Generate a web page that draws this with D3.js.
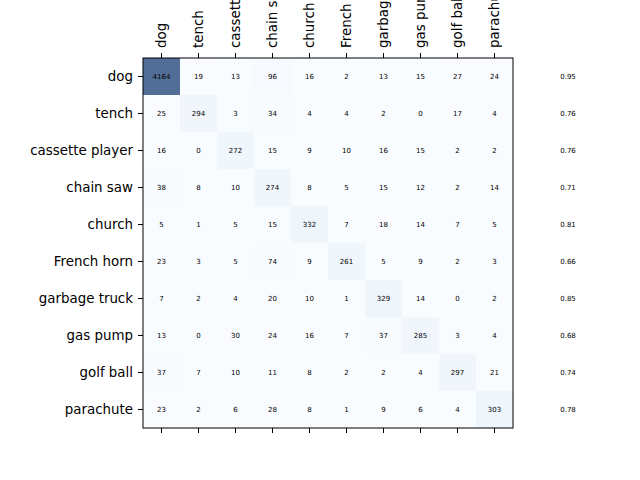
<!DOCTYPE html>
<html>
<head>
<meta charset="utf-8">
<script src="https://cdn.jsdelivr.net/npm/d3@7"></script>
<style>
  html, body { margin: 0; padding: 0; background: #fff; }
  svg { display: block; }
</style>
</head>
<body>
<svg id="chart" width="640" height="480"></svg>
<script>
const categories = ["dog", "tench", "cassette player", "chain saw", "church", "French horn", "garbage truck", "gas pump", "golf ball", "parachute"];
const row_dog       = [4164, 19, 13, 96, 16, 2, 13, 15, 27, 24];
const row_tench     = [25, 294, 3, 34, 4, 4, 2, 0, 17, 4];
const row_cassette  = [16, 0, 272, 15, 9, 10, 16, 15, 2, 2];
const row_chainsaw  = [38, 8, 10, 274, 8, 5, 15, 12, 2, 14];
const row_church    = [5, 1, 5, 15, 332, 7, 18, 14, 7, 5];
const row_horn      = [23, 3, 5, 74, 9, 261, 5, 9, 2, 3];
const row_garbage   = [7, 2, 4, 20, 10, 1, 329, 14, 0, 2];
const row_gaspump   = [13, 0, 30, 24, 16, 7, 37, 285, 3, 4];
const row_golfball  = [37, 7, 10, 11, 8, 2, 2, 4, 297, 21];
const row_parachute = [23, 2, 6, 28, 8, 1, 9, 6, 4, 303];
const accuracies = ["0.95", "0.76", "0.76", "0.71", "0.81", "0.66", "0.85", "0.68", "0.74", "0.78"];

const matrix = [row_dog, row_tench, row_cassette, row_chainsaw, row_church, row_horn, row_garbage, row_gaspump, row_golfball, row_parachute];

(function () {
const svg = d3.select("#chart");
svg.append("rect").attr("width", 640).attr("height", 480).attr("fill", "#fff");

const mLeft = 143, mTop = 58, size = 370;
const x = d3.scaleBand().domain(categories).range([mLeft, mLeft + size]);
const y = d3.scaleBand().domain(categories).range([mTop, mTop + size]);
const maxV = d3.max(matrix.flat());
const color = d3.scaleSequential(d3.interpolateBlues).domain([0, maxV]);

const cells = [];
matrix.forEach((row, i) => row.forEach((v, j) => cells.push({r: categories[i], c: categories[j], v})));

svg.append("g").selectAll("rect").data(cells).join("rect")
  .attr("x", d => x(d.c)).attr("y", d => y(d.r))
  .attr("width", x.bandwidth()).attr("height", y.bandwidth())
  .attr("fill", d => color(d.v)).attr("fill-opacity", 0.7);

svg.append("g").selectAll("text").data(cells).join("text")
  .attr("x", d => x(d.c) + x.bandwidth() / 2)
  .attr("y", d => y(d.r) + y.bandwidth() / 2)
  .attr("text-anchor", "middle").attr("dominant-baseline", "central")
  .attr("font-family", "DejaVu Sans").attr("font-size", 7).attr("fill", "#000")
  .text(d => d.v);

// accuracy column
svg.append("g").selectAll("text").data(categories).join("text")
  .attr("x", 568).attr("y", (d) => y(d) + y.bandwidth() / 2)
  .attr("text-anchor", "middle").attr("dominant-baseline", "central")
  .attr("font-family", "DejaVu Sans").attr("font-size", 7).attr("fill", "#000")
  .text((d, i) => accuracies[i]);

// frame
svg.append("rect").attr("x", mLeft).attr("y", mTop).attr("width", size).attr("height", size)
  .attr("fill", "none").attr("stroke", "#000").attr("stroke-width", 1);

const styleAxis = g => {
  g.select(".domain").remove();
  g.selectAll(".tick line").attr("stroke", "#000");
  g.selectAll(".tick text").attr("font-family", "DejaVu Sans").attr("font-size", 13.4).attr("fill", "#000");
};

svg.append("g").attr("transform", `translate(${mLeft},0)`)
  .call(d3.axisLeft(y).tickSize(5).tickPadding(5))
  .call(styleAxis);

const topAx = svg.append("g").attr("transform", `translate(0,${mTop})`)
  .call(d3.axisTop(x).tickSize(5).tickPadding(5))
  .call(styleAxis);
topAx.selectAll(".tick text")
  .attr("transform", "rotate(-90)")
  .attr("text-anchor", "start")
  .attr("x", 10).attr("y", 0).attr("dy", "0.35em");

svg.append("g").attr("transform", `translate(0,${mTop + size})`)
  .call(d3.axisBottom(x).tickSize(5).tickFormat(""))
  .call(styleAxis);
})();
</script>
</body>
</html>
